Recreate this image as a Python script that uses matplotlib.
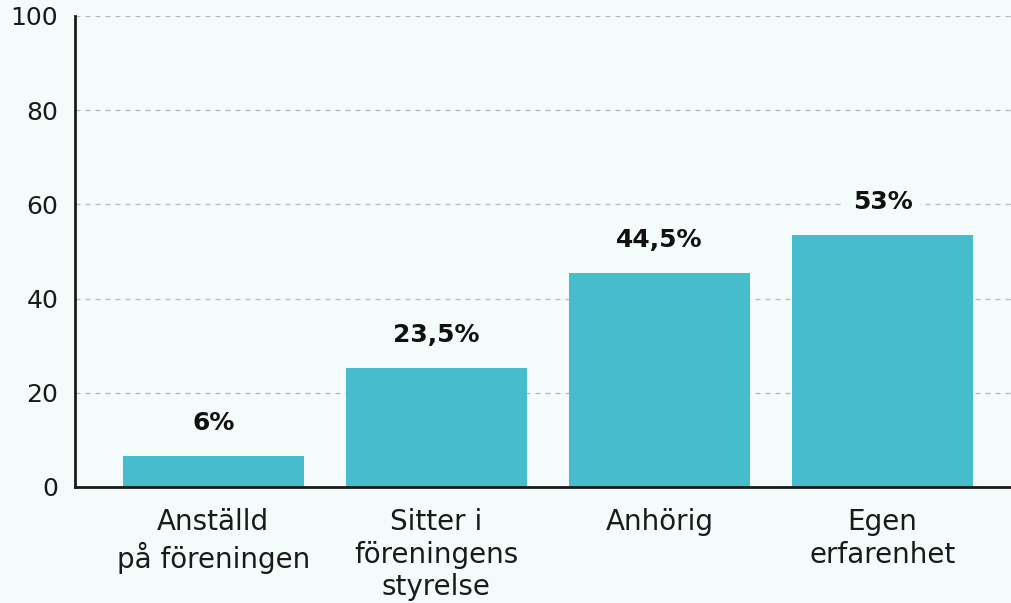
import matplotlib
matplotlib.use("Agg")
import matplotlib.pyplot as plt

categories = ["Anställd\npå föreningen", "Sitter i\nföreningens\nstyrelse", "Anhörig", "Egen\nerfarenhet"]
values = [6.6, 25.2, 45.4, 53.6]
value_labels = ["6%", "23,5%", "44,5%", "53%"]
yticks = [0, 20, 40, 60, 80, 100]

bg = "#f3fbfb"
bar_color = "#46bccc"

plt.rcParams['font.family'] = ['DejaVu Sans']

fig = plt.figure(figsize=(10.11, 6.03), dpi=100, facecolor=bg)
ax = fig.add_axes([0.0742, 0.1924, 0.9258, 0.7811], facecolor=bg)

x = list(range(len(categories)))
bars = ax.bar(x, values, width=0.81, color=bar_color, zorder=2)

ax.set_ylim(0, 100)
ax.set_xlim(-0.62, 3.576)
ax.set_yticks(yticks)
ax.set_yticklabels([str(t) for t in yticks])
ax.set_xticks(x)
ax.set_xticklabels(categories, linespacing=1.22)

ax.yaxis.grid(True, linestyle=(0, (4, 4)), color="#b5b9bb", linewidth=0.9, zorder=0)
ax.set_axisbelow(True)
for s in ["top", "right"]:
    ax.spines[s].set_visible(False)
for s in ["left", "bottom"]:
    ax.spines[s].set_linewidth(2)
    ax.spines[s].set_color("#1a1a1a")
    ax.spines[s].set_zorder(3)

ax.tick_params(axis="both", length=0, colors="#1a1a1a")
ax.tick_params(axis="y", pad=12, labelsize=18)
ax.tick_params(axis="x", pad=15, labelsize=20)

for xi, v, lab in zip(x, values, value_labels):
    ax.annotate(lab, (xi, v), xytext=(0, 15), textcoords="offset points",
                ha="center", va="bottom", fontsize=18, fontweight="bold", color="#111111",
                bbox=dict(boxstyle="square,pad=0.3", facecolor=bg, edgecolor="none"), zorder=4)

fig.savefig("out.png", dpi=100, facecolor=bg)
